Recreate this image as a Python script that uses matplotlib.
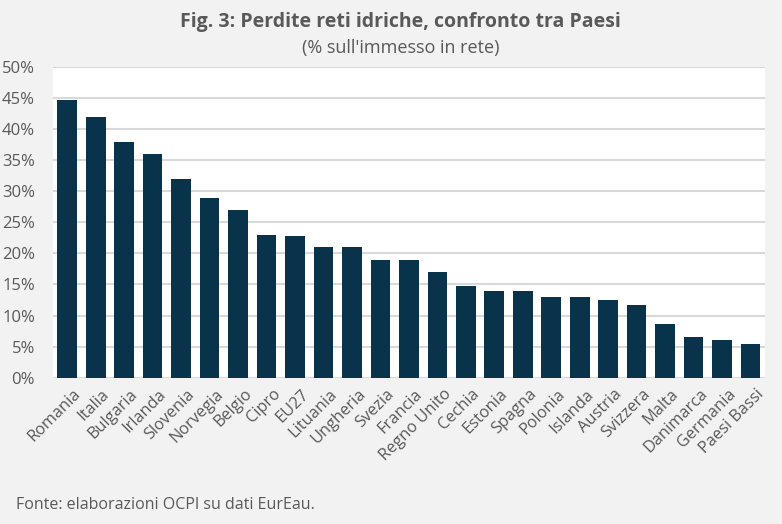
import matplotlib.pyplot as plt
import matplotlib.transforms as mtransforms
from matplotlib.ticker import FuncFormatter

paesi = ['Romania', 'Italia', 'Bulgaria', 'Irlanda', 'Slovenia', 'Norvegia', 'Belgio',
         'Cipro', 'EU27', 'Lituania', 'Ungheria', 'Svezia', 'Francia', 'Regno Unito',
         'Cechia', 'Estonia', 'Spagna', 'Polonia', 'Islanda', 'Austria', 'Svizzera',
         'Malta', 'Danimarca', 'Germania', 'Paesi Bassi']
perdite = [44.6, 41.9, 37.9, 36.0, 31.9, 28.9, 27.0, 22.9, 22.8, 21.0, 21.0, 18.9,
           18.9, 17.0, 14.7, 13.9, 13.9, 12.95, 12.95, 12.5, 11.7, 8.6, 6.5, 6.1, 5.4]
y_ticks = [0, 5, 10, 15, 20, 25, 30, 35, 40, 45, 50]

plt.rcParams['font.family'] = ['Open Sans', 'DejaVu Sans']
grigio = '#595959'

fig = plt.figure(figsize=(7.82, 5.24), dpi=100, facecolor='#f2f2f2')
ax = fig.add_axes([0.0678, 0.279, 0.9102, 0.594])
ax.set_facecolor('white')

x = list(range(len(paesi)))
ax.bar(x, perdite, width=0.69, color='#08334a', zorder=3)

ax.set_xlim(-0.5, len(paesi) - 0.5)
ax.set_ylim(0, 50)
ax.set_yticks(y_ticks)
ax.yaxis.set_major_formatter(FuncFormatter(lambda v, p: '%d%%' % v))
ax.grid(axis='y', color='#d9d9d9', linewidth=1.5, zorder=0)
ax.set_axisbelow(True)
for s in ax.spines.values():
    s.set_visible(False)
ax.tick_params(length=0, colors=grigio)
ax.tick_params(axis='y', pad=13, labelsize=12)
ax.set_xticks(x)
ax.set_xticklabels(paesi, rotation=45, ha='right', rotation_mode='anchor')
ax.tick_params(axis='x', pad=6, labelsize=11.8)
# sposta le etichette un po' a destra come nell'originale
sposta = mtransforms.ScaledTranslation(4 / 72, 0, fig.dpi_scale_trans)
for lab in ax.get_xticklabels():
    lab.set_transform(lab.get_transform() + sposta)

fig.text(0.512, 0.958, 'Fig. 3: Perdite reti idriche, confronto tra Paesi',
         ha='center', va='center', fontsize=14, fontweight='bold', color=grigio)
fig.text(0.512, 0.908, "(% sull'immesso in rete)", ha='center', va='center',
         fontsize=13, color=grigio)
fig.text(0.02, 0.036, 'Fonte: elaborazioni OCPI su dati EurEau.', ha='left', va='center',
         fontsize=11.5, color=grigio)

fig.savefig('out.png', dpi=100, facecolor=fig.get_facecolor())
